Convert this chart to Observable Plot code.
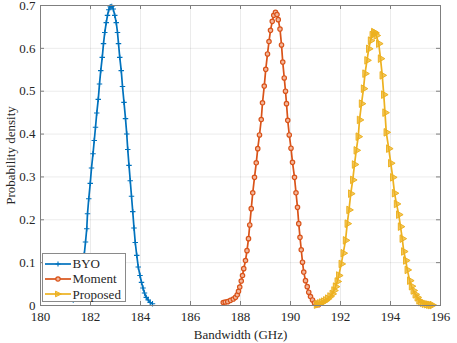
<!DOCTYPE html>
<html><head><meta charset="utf-8">
<script src="https://cdn.jsdelivr.net/npm/d3@7"></script>
<script src="https://cdn.jsdelivr.net/npm/@observablehq/plot@0.6"></script>
<style>
body{margin:0;background:#fff;}
#wrap{position:relative;width:457px;height:343px;font-family:"Liberation Serif","Times New Roman",serif;color:#262626;}
#wrap svg, #wrap svg text{font-family:"Liberation Serif","Times New Roman",serif !important;}
#legend{position:absolute;left:41.5px;top:253px;width:84px;height:49px;background:#fff;border:1px solid #8a8a8a;box-sizing:border-box;font-size:13px;}
#legend .row{position:absolute;left:2px;height:15px;display:flex;align-items:center;}
#legend svg{display:block;}
#legend span{margin-left:2px;line-height:15px;}
</style></head><body><div id="wrap"></div>
<script>
// ---- data ----
const seriesNames = ["BYO", "Moment", "Proposed"];
const seriesColors = ["#0072BD", "#D95319", "#EDB120"];

const byoX = [181.31,181.39,181.47,181.52,181.57,181.63,181.70,181.75,181.80,181.85,181.88,181.93,181.99,182.04,182.10,182.15,182.20,182.25,182.31,182.36,182.41,182.47,182.52,182.57,182.63,182.68,182.73,182.79,182.85,182.91,182.97,183.03,183.08,183.12,183.17,183.23,183.28,183.34,183.40,183.45,183.49,183.54,183.59,183.64,183.69,183.74,183.79,183.85,183.91,183.98,184.04,184.10,184.16,184.23,184.31,184.39,184.48];
const byoY = [0.013,0.019,0.029,0.041,0.054,0.070,0.092,0.119,0.148,0.179,0.214,0.249,0.285,0.321,0.354,0.385,0.416,0.449,0.481,0.517,0.548,0.579,0.611,0.637,0.660,0.677,0.690,0.697,0.698,0.692,0.677,0.660,0.637,0.611,0.579,0.548,0.511,0.474,0.436,0.400,0.364,0.327,0.291,0.255,0.219,0.181,0.147,0.117,0.090,0.070,0.054,0.041,0.029,0.019,0.013,0.007,0.004];

const momentX = [187.31,187.39,187.49,187.60,187.71,187.80,187.87,187.92,187.97,188.03,188.08,188.13,188.20,188.26,188.32,188.37,188.43,188.49,188.56,188.63,188.69,188.76,188.83,188.88,188.95,189.01,189.08,189.14,189.20,189.27,189.33,189.40,189.46,189.51,189.58,189.64,189.69,189.75,189.80,189.84,189.89,189.95,190.02,190.08,190.16,190.22,190.28,190.33,190.38,190.43,190.48,190.53,190.60,190.67,190.73,190.80,190.88,190.96,191.05,191.12];
const momentY = [0.007,0.008,0.009,0.012,0.015,0.019,0.025,0.033,0.043,0.057,0.070,0.086,0.105,0.128,0.156,0.188,0.226,0.263,0.299,0.333,0.366,0.398,0.434,0.473,0.512,0.551,0.587,0.616,0.642,0.663,0.677,0.684,0.679,0.667,0.645,0.608,0.568,0.531,0.500,0.471,0.432,0.398,0.367,0.334,0.299,0.263,0.229,0.191,0.159,0.130,0.101,0.078,0.058,0.044,0.031,0.021,0.013,0.006,0.003,0.002];

const proposedX = [191.04,191.10,191.17,191.25,191.33,191.41,191.49,191.58,191.67,191.74,191.80,191.87,191.93,192.03,192.11,192.20,192.27,192.34,192.41,192.49,192.56,192.63,192.71,192.76,192.84,192.92,192.98,193.06,193.13,193.20,193.27,193.33,193.38,193.43,193.53,193.60,193.67,193.73,193.78,193.83,193.93,194.01,194.09,194.16,194.24,194.33,194.40,194.47,194.53,194.61,194.67,194.77,194.84,194.91,194.99,195.07,195.14,195.20,195.28,195.36,195.45,195.53,195.60,195.67];
const proposedY = [0.002,0.003,0.005,0.007,0.009,0.012,0.016,0.021,0.027,0.035,0.044,0.056,0.070,0.097,0.122,0.152,0.191,0.223,0.261,0.293,0.329,0.362,0.394,0.433,0.471,0.506,0.541,0.572,0.599,0.618,0.631,0.638,0.636,0.630,0.611,0.576,0.537,0.492,0.450,0.404,0.366,0.332,0.299,0.262,0.237,0.212,0.184,0.156,0.126,0.105,0.083,0.058,0.045,0.035,0.026,0.019,0.012,0.008,0.006,0.004,0.003,0.002,0.001,0.001];

const xTicks = [180,182,184,186,188,190,192,194,196];
const yTicks = [0,0.1,0.2,0.3,0.4,0.5,0.6,0.7];
const yTickLabels = ["0","0.1","0.2","0.3","0.4","0.5","0.6","0.7"];
const xLabel = "Bandwidth (GHz)";
const yLabel = "Probability density";

// ---- build tables ----
const toRows = (xs, ys) => xs.map((x, i) => ({x, y: ys[i]}));
const byo = toRows(byoX, byoY);
const moment = toRows(momentX, momentY);
const proposed = toRows(proposedX, proposedY);

const W = 457, H = 343, mL = 40, mR = 17, mT = 5, mB = 38;
const innerW = W - mL - mR, innerH = H - mT - mB;
const tickLen = 4;
const frameColor = "#7f7f7f";

const chart = Plot.plot({
  width: W, height: H,
  marginLeft: mL, marginRight: mR, marginTop: mT, marginBottom: mB,
  style: {fontFamily: "Liberation Serif, Times New Roman, serif", fontSize: "13px", color: "#262626", background: "#fff", overflow: "visible"},
  x: {domain: [180, 196]},
  y: {domain: [0, 0.7]},
  marks: [
    Plot.gridX(xTicks, {stroke: "#000", strokeOpacity: 0.1, strokeWidth: 0.8}),
    Plot.gridY(yTicks, {stroke: "#000", strokeOpacity: 0.1, strokeWidth: 0.8}),
    Plot.tickX(xTicks, {x: d => d, insetTop: innerH - tickLen, stroke: frameColor}),
    Plot.tickX(xTicks, {x: d => d, insetBottom: innerH - tickLen, stroke: frameColor}),
    Plot.tickY(yTicks, {y: d => d, insetRight: innerW - tickLen, stroke: frameColor}),
    Plot.tickY(yTicks, {y: d => d, insetLeft: innerW - tickLen, stroke: frameColor}),
    Plot.axisX({ticks: xTicks, tickSize: 0, tickPadding: 6, tickFormat: d => String(d),
      label: xLabel, labelAnchor: "center", labelOffset: 33, labelArrow: "none"}),
    Plot.axisY({ticks: yTicks, tickSize: 0, tickPadding: 5, tickFormat: d => yTickLabels[yTicks.indexOf(d)],
      label: yLabel, labelAnchor: "center", labelOffset: 35, labelArrow: "none"}),
    Plot.line(byo, {x: "x", y: "y", stroke: seriesColors[0], strokeWidth: 1.7}),
    Plot.dot(byo, {x: "x", y: "y", symbol: "plus", r: 1.9, stroke: seriesColors[0], strokeWidth: 1.1}),
    Plot.line(moment, {x: "x", y: "y", stroke: seriesColors[1], strokeWidth: 1.7}),
    Plot.dot(moment, {x: "x", y: "y", symbol: "circle", r: 2.2, stroke: seriesColors[1], fill: "#f3b79c", strokeWidth: 1.2}),
    Plot.line(proposed, {x: "x", y: "y", stroke: seriesColors[2], strokeWidth: 1.7}),
    Plot.dot(proposed, {x: "x", y: "y", symbol: "triangle", rotate: 90, r: 2.8, stroke: seriesColors[2], fill: seriesColors[2], fillOpacity: 0.7, strokeWidth: 1}),
    Plot.frame({stroke: frameColor, strokeWidth: 1})
  ]
});

const wrap = document.getElementById("wrap");
wrap.appendChild(chart);

// legend overlay
const legend = document.createElement("div");
legend.id = "legend";
const markerSvg = (i) => {
  const c = seriesColors[i];
  let m = "";
  if (i === 0) m = `<path d="M10.5,5H15.5M13,2.5V7.5" stroke="${c}" stroke-width="1.1"/>`;
  if (i === 1) m = `<circle cx="13" cy="5" r="2.2" stroke="${c}" fill="#f3b79c" stroke-width="1.2"/>`;
  if (i === 2) m = `<path d="M10.5,2.2L16.3,5L10.5,7.8Z" stroke="${c}" fill="${c}" fill-opacity="0.7"/>`;
  return `<svg width="26" height="10"><line x1="0" y1="5" x2="26" y2="5" stroke="${c}" stroke-width="1.7"/>${m}</svg>`;
};
seriesNames.forEach((name, i) => {
  const row = document.createElement("div");
  row.className = "row";
  row.style.top = (2 + i * 15.3) + "px";
  row.innerHTML = markerSvg(i) + `<span>${name}</span>`;
  legend.appendChild(row);
});
wrap.appendChild(legend);
</script>
</body></html>
